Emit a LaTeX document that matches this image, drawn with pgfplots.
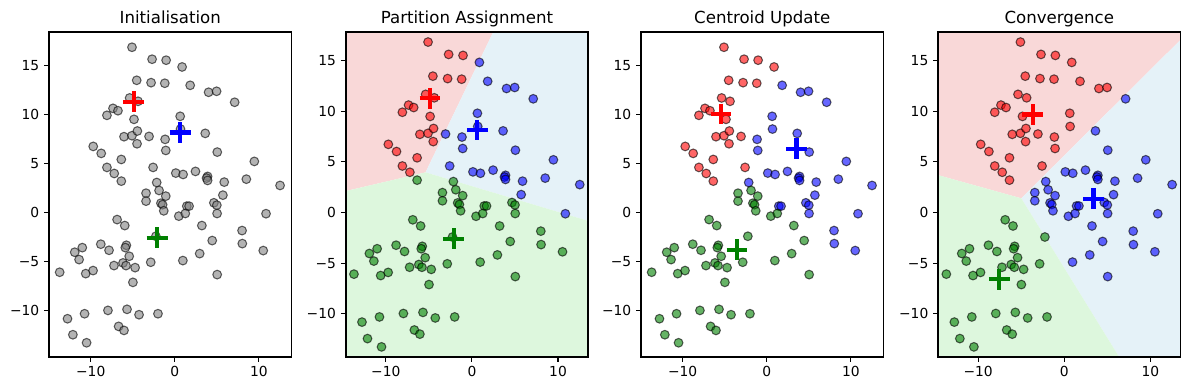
\documentclass[border=0pt]{standalone}
\usepackage{pgfplots}
\pgfplotsset{compat=1.18}
\usepackage{pgfplotstable}
\usepackage{fontspec}
\setmainfont{DejaVu Sans}
\definecolor{mplgreen}{RGB}{0,128,0}
\definecolor{bgred}{RGB}{249,216,216}
\definecolor{bgblue}{RGB}{229,242,248}
\definecolor{bggreen}{RGB}{221,247,221}

\pgfplotstableread{
x y c2 c3 c4
-5.09 16.85 r r r
-2.70 15.63 r r r
-1.03 15.53 r r r
0.87 14.84 b r r
-4.53 13.48 r r r
-2.82 13.24 r r r
-1.19 13.18 r r r
1.83 12.97 b b r
4.02 12.26 b b r
4.97 12.36 b b r
7.12 11.24 b b b
-5.37 11.68 r r r
-4.37 11.34 r r r
-7.35 10.62 r r r
-6.76 10.38 r r r
-8.07 9.91 r r r
-4.85 9.50 r r r
0.64 9.81 b b r
0.68 8.51 b b r
3.62 8.07 b b b
-6.04 7.73 r r r
-5.09 7.83 r r r
-4.45 8.31 r r r
-3.06 7.76 b r r
-1.15 7.46 b b r
-4.49 7.01 r r r
-1.07 6.33 b b r
5.05 6.16 b b b
-9.70 6.74 r r r
-8.75 6.03 r r r
-6.36 5.41 r r r
-8.07 4.60 r r r
-7.20 3.98 r r r
-6.36 3.20 g r r
-2.58 4.60 b r r
0.12 4.02 b b b
0.99 3.88 b b b
2.46 4.19 b b b
9.46 5.21 b b b
3.90 3.68 b b b
3.78 3.51 b b b
3.90 3.27 b b b
5.88 3.10 b b b
8.51 3.40 b b b
12.52 2.76 b b b
-2.15 3.06 g b b
-3.42 1.97 g g b
-1.87 2.25 g g b
-1.07 1.67 g g b
-3.42 1.16 g g b
-1.65 0.95 g g b
-1.45 0.80 g g b
-1.31 0.17 g g b
1.43 0.65 g b b
1.70 0.65 g b b
0.48 -0.37 g g b
1.25 -0.10 g g b
4.65 0.99 g b b
5.00 0.75 g b b
5.72 1.77 b b b
5.03 -0.10 g b b
10.85 -0.12 b b b
3.22 -1.33 g g b
8.00 -1.84 g b b
8.03 -3.17 g b b
4.45 -2.86 g g b
10.52 -3.88 g b b
2.96 -4.19 g g b
0.96 -4.90 g g b
5.04 -6.33 g g b
-2.00 -10.32 g g g
-6.86 -0.72 g g g
-5.95 -1.33 g g g
-2.25 -2.42 g g g
-8.80 -3.23 g g g
-7.82 -3.85 g g g
-5.76 -3.34 g g g
-5.88 -3.58 g g g
-11.00 -3.58 g g g
-11.90 -4.05 g g g
-11.38 -4.80 g g g
-5.42 -4.46 g g g
-7.23 -5.41 g g g
-6.16 -5.14 g g g
-5.80 -5.41 g g g
-4.72 -5.62 g g g
-2.86 -5.07 g g g
-13.69 -6.09 g g g
-10.59 -6.23 g g g
-9.72 -5.92 g g g
-4.98 -7.12 g g g
-12.76 -10.83 g g g
-10.73 -10.32 g g g
-7.95 -9.98 g g g
-5.68 -9.87 g g g
-4.25 -10.42 g g g
-6.68 -11.61 g g g
-6.04 -12.02 g g g
-12.12 -12.46 g g g
-10.49 -13.28 g g g
}\pts

\pgfplotsset{
  panel/.style={
    scale only axis, width=174.6bp, height=233.6bp, anchor=south west,
    axis line style={line width=0.8bp, black},
    tick align=outside, xtick pos=left, ytick pos=left, major tick length=3.5bp,
    xtick style={black, line width=0.8bp}, ytick style={black, line width=0.8bp},
    xtick={-10,0,10}, xticklabels={−10,0,10},
    ytick={-10,-5,0,5,10,15}, yticklabels={−10,−5,0,5,10,15},
    tick label style={font=\fontsize{10}{12}\selectfont},
    title style={font=\fontsize{12}{14}\selectfont, anchor=base, inner sep=0pt},
  },
  lims1/.style={xmin=-14.96, xmax=13.88, ymin=-14.7, ymax=18.38},
  lims2/.style={xmin=-14.65, xmax=13.5, ymin=-14.25, ymax=17.82},
  pts/.style={only marks, scatter, point meta=explicit symbolic,
    scatter/classes={
      r={mark=*, mark size=3.15bp, fill=red, draw=black, line width=0.75bp, fill opacity=0.6, draw opacity=0.6},
      b={mark=*, mark size=3.15bp, fill=blue, draw=black, line width=0.75bp, fill opacity=0.6, draw opacity=0.6},
      g={mark=*, mark size=3.15bp, fill=mplgreen, draw=black, line width=0.75bp, fill opacity=0.6, draw opacity=0.6}}},
  cent/.style={only marks, mark=+, mark size=7.5bp, mark options={line width=3bp, draw=#1}},
}

\begin{document}
\begin{tikzpicture}
% Panel 1
\begin{axis}[panel, lims1, at={(35.28bp,23.98bp)}, title={Initialisation}]
\addplot[only marks, mark=*, mark size=3.15bp, mark options={fill=gray, draw=black, line width=0.75bp, fill opacity=0.6, draw opacity=0.6}] table[x=x,y=y]{\pts};
\addplot[cent=red] coordinates {(-4.87,11.28)};
\addplot[cent=blue] coordinates {(0.63,8.16)};
\addplot[cent=mplgreen] coordinates {(-2.1,-2.58)};
\end{axis}
% Panel 2
\begin{axis}[panel, lims2, at={(248.9bp,23.98bp)}, title={Partition Assignment}]
\addplot[draw=none, fill=bgred] coordinates {(-14.65,2.119) (-5.382,3.971) (2.463,17.82) (-14.65,17.82)} -- cycle;
\addplot[draw=none, fill=bgblue] coordinates {(-5.382,3.971) (2.463,17.82) (13.5,17.82) (13.5,-0.829)} -- cycle;
\addplot[draw=none, fill=bggreen] coordinates {(-14.65,2.119) (-5.382,3.971) (13.5,-0.829) (13.5,-14.25) (-14.65,-14.25)} -- cycle;
\addplot[pts] table[x=x,y=y,meta=c2]{\pts};
\addplot[cent=red] coordinates {(-4.87,11.28)};
\addplot[cent=blue] coordinates {(0.63,8.16)};
\addplot[cent=mplgreen] coordinates {(-2.1,-2.58)};
\end{axis}
% Panel 3
\begin{axis}[panel, lims1, at={(461.5bp,23.98bp)}, title={Centroid Update}]
\addplot[pts] table[x=x,y=y,meta=c3]{\pts};
\addplot[cent=red] coordinates {(-5.44,10.04)};
\addplot[cent=blue] coordinates {(3.54,6.50)};
\addplot[cent=mplgreen] coordinates {(-3.54,-3.81)};
\end{axis}
% Panel 4
\begin{axis}[panel, lims2, at={(675.4bp,23.98bp)}, title={Convergence}]
\addplot[draw=none, fill=bgred] coordinates {(-14.65,3.696) (-4.989,1.405) (13.5,17.079) (13.5,17.82) (-14.65,17.82)} -- cycle;
\addplot[draw=none, fill=bgblue] coordinates {(-4.989,1.405) (13.5,17.079) (13.5,-14.25) (6.347,-14.25)} -- cycle;
\addplot[draw=none, fill=bggreen] coordinates {(-14.65,3.696) (-4.989,1.405) (6.347,-14.25) (-14.65,-14.25)} -- cycle;
\addplot[pts] table[x=x,y=y,meta=c4]{\pts};
\addplot[cent=red] coordinates {(-3.67,9.69)};
\addplot[cent=blue] coordinates {(3.40,1.35)};
\addplot[cent=mplgreen] coordinates {(-7.53,-6.59)};
\end{axis}
\draw[black, line width=1.3bp] (35.28bp,23.98bp) rectangle (209.88bp,257.58bp);
\draw[black, line width=1.3bp] (248.9bp,23.98bp) rectangle (423.5bp,257.58bp);
\draw[black, line width=1.3bp] (461.5bp,23.98bp) rectangle (636.1bp,257.58bp);
\draw[black, line width=1.3bp] (675.4bp,23.98bp) rectangle (850.0bp,257.58bp);
\pgfresetboundingbox
\useasboundingbox (0,0) rectangle (856.08bp,280.8bp);
\end{tikzpicture}
\end{document}
